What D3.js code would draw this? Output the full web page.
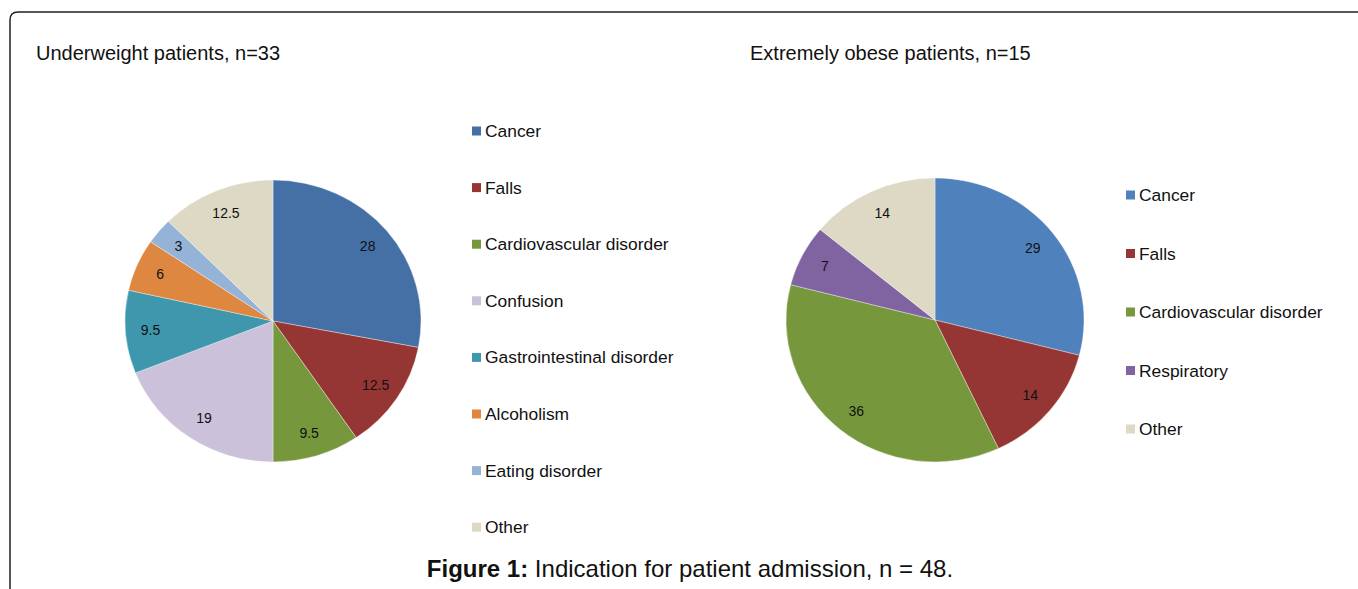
<!DOCTYPE html>
<html>
<head>
<meta charset="utf-8">
<script src="https://cdn.jsdelivr.net/npm/d3@7"></script>
<style>
  body { margin: 0; background: #fff; }
  svg { display: block; font-family: Arial, "Liberation Sans", sans-serif; }
</style>
</head>
<body>
<svg id="chart"></svg>
<script>
const leftCategories = ["Cancer", "Falls", "Cardiovascular disorder", "Confusion",
  "Gastrointestinal disorder", "Alcoholism", "Eating disorder", "Other"];
const leftValues = [28, 12.5, 9.5, 19, 9.5, 6, 3, 12.5];
const leftColors = ["#4470a6", "#963634", "#77973d", "#ccc1da", "#3f97ae", "#de8740", "#95b3d7", "#ddd9c4"];

const rightCategories = ["Cancer", "Falls", "Cardiovascular disorder", "Respiratory", "Other"];
const rightValues = [29, 14, 36, 7, 14];
const rightColors = ["#4f81bd", "#963634", "#77973d", "#8064a2", "#ddd9c4"];

const width = 1358, height = 589;
const svg = d3.select("#chart").attr("width", width).attr("height", height);

// frame with rounded top-left corner, running off the right and bottom edges
svg.append("path")
  .attr("d", "M10,600 L10,20 Q10,12 18,12 L1370,12")
  .attr("fill", "none")
  .attr("stroke", "#222")
  .attr("stroke-width", 1.5);

function drawPie(opts) {
  const g = svg.append("g")
    .attr("transform", "translate(" + opts.cx + "," + opts.cy + ") scale(" + (opts.rx / opts.ry) + ",1)");
  const pie = d3.pie().sort(null).value(d => d)(opts.values);
  const arc = d3.arc().innerRadius(0).outerRadius(opts.ry);
  const labelArc = d3.arc().innerRadius(opts.ry * 0.83).outerRadius(opts.ry * 0.83);

  g.selectAll("path.slice")
    .data(pie)
    .enter()
    .append("path")
    .attr("class", "slice")
    .attr("d", arc)
    .attr("fill", (d, i) => opts.colors[i])
    .attr("stroke", "#ffffff")
    .attr("stroke-opacity", 0.6)
    .attr("stroke-width", 0.6);

  // labels placed outside the scaled group so text isn't stretched
  pie.forEach(function (d) {
    const c = labelArc.centroid(d);
    svg.append("text")
      .attr("x", opts.cx + c[0] * opts.rx / opts.ry)
      .attr("y", opts.cy + c[1])
      .attr("dy", "0.35em")
      .attr("text-anchor", "middle")
      .attr("font-size", 14)
      .attr("fill", "#111")
      .text(d.data);
  });

  svg.append("text")
    .attr("x", opts.titleX)
    .attr("y", 60)
    .attr("font-size", 20)
    .attr("fill", "#111")
    .text(opts.title);

  const legend = svg.append("g");
  opts.categories.forEach(function (name, i) {
    const y = opts.legendY + i * opts.legendStep;
    legend.append("rect")
      .attr("x", opts.legendX)
      .attr("y", y - 4.5)
      .attr("width", 9)
      .attr("height", 9)
      .attr("fill", opts.colors[i]);
    legend.append("text")
      .attr("x", opts.legendX + 13)
      .attr("y", y)
      .attr("dy", "0.35em")
      .attr("font-size", 17.4)
      .attr("fill", "#111")
      .text(name);
  });
}

drawPie({
  values: leftValues, colors: leftColors, categories: leftCategories,
  cx: 273, cy: 321, rx: 148, ry: 141,
  title: "Underweight patients, n=33", titleX: 36,
  legendX: 472, legendY: 131, legendStep: 56.6
});

drawPie({
  values: rightValues, colors: rightColors, categories: rightCategories,
  cx: 935, cy: 320, rx: 149, ry: 142,
  title: "Extremely obese patients, n=15", titleX: 750,
  legendX: 1126, legendY: 195, legendStep: 58.5
});

const caption = svg.append("text")
  .attr("x", 690)
  .attr("y", 577)
  .attr("text-anchor", "middle")
  .attr("font-size", 24)
  .attr("fill", "#111");
caption.append("tspan").attr("font-weight", "bold").text("Figure 1:");
caption.append("tspan").text(" Indication for patient admission, n = 48.");
</script>
</body>
</html>
